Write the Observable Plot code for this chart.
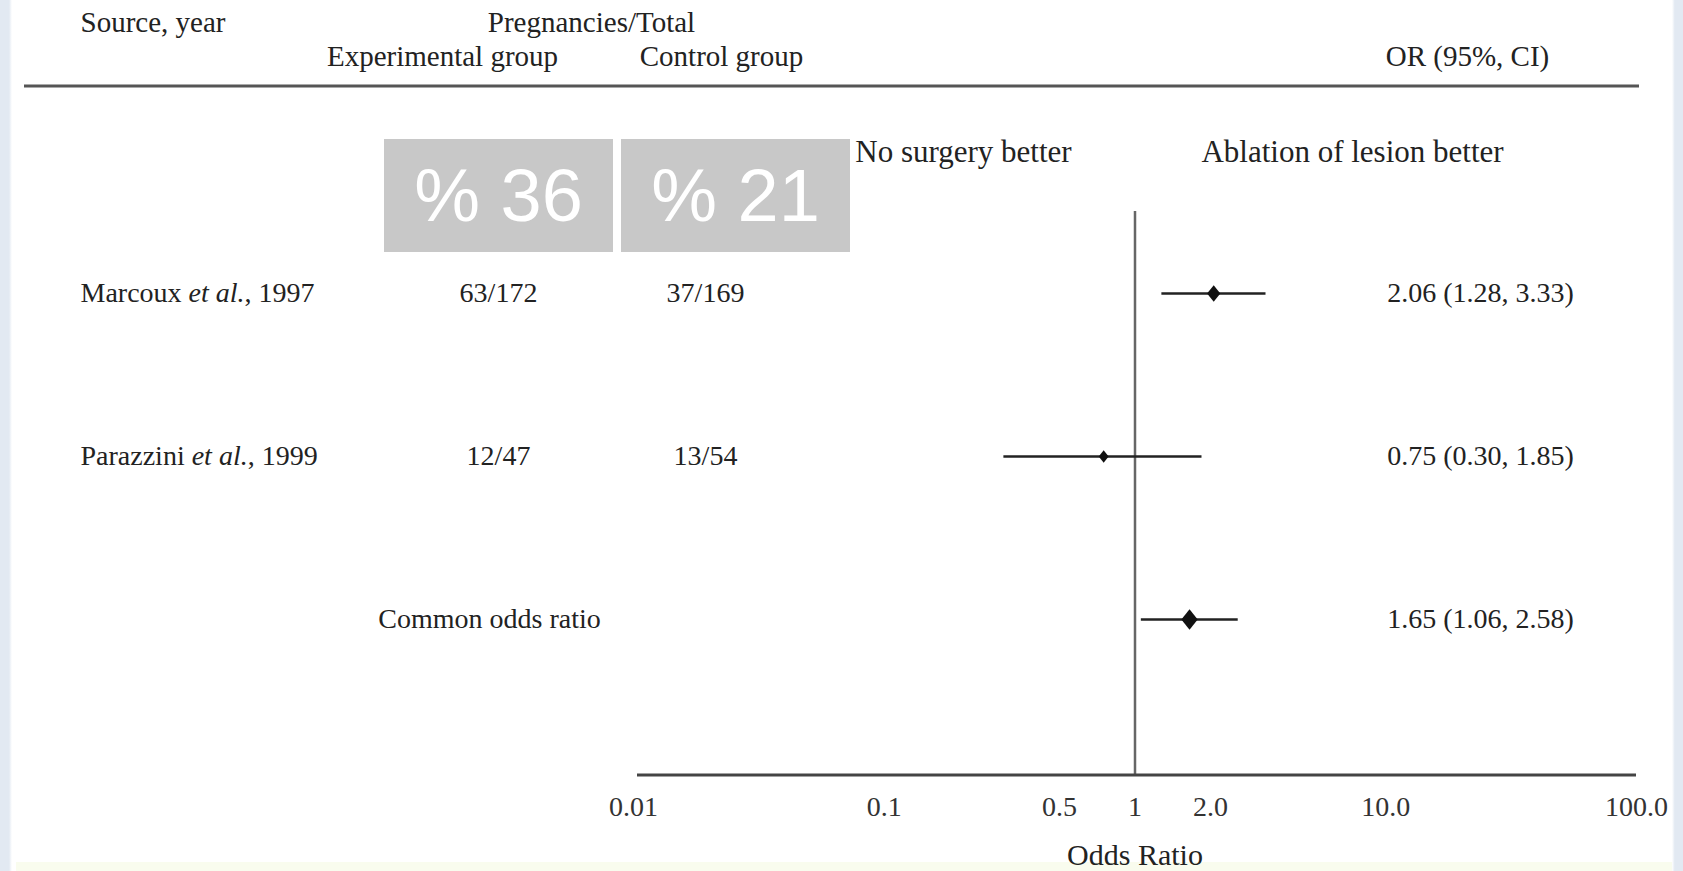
<!DOCTYPE html>
<html>
<head>
<meta charset="utf-8">
<script src="https://cdn.jsdelivr.net/npm/d3@7"></script>
<script src="https://cdn.jsdelivr.net/npm/@observablehq/plot@0.6"></script>
<style>
  html, body { margin: 0; padding: 0; background: #fff; }
  #wrap { position: relative; width: 1683px; height: 871px; overflow: hidden; background: #fff; }
  .strip { position: absolute; }
  #chart { position: absolute; left: 0; top: 0; }
  .box { position: absolute; top: 139px; width: 229px; height: 113px; background: #c8c8c8; color: #fff;
         font-family: 'Liberation Sans', Arial, sans-serif; font-size: 74px; display: flex;
         align-items: center; justify-content: center; line-height: 1; }
</style>
</head>
<body>
<div id="wrap">
  <div class="strip" style="left:0;top:0;width:12px;height:871px;background:linear-gradient(to right,#e2e9f2 75%,#fff);"></div>
  <div class="strip" style="right:0;top:0;width:11px;height:871px;background:linear-gradient(to left,#e2e9f2 75%,#fff);"></div>
  <div class="strip" style="left:16px;top:862px;width:1656px;height:9px;background:#f9fcee;"></div>
  <div id="chart"></div>
</div>
<script>
// ---------- data ----------
const studies = ["Marcoux et al., 1997", "Parazzini et al., 1999", "Common odds ratio"];
const expEvents = [63, 12, null];
const expTotals = [172, 47, null];
const ctlEvents = [37, 13, null];
const ctlTotals = [169, 54, null];
const oddsRatios = [2.06, 0.75, 1.65];
const ciLower = [1.28, 0.30, 1.06];
const ciUpper = [3.33, 1.85, 2.58];
const tickValues = [0.01, 0.1, 0.5, 1, 2, 10, 100];
const tickLabels = ["0.01", "0.1", "0.5", "1", "2.0", "10.0", "100.0"];
const percentLabels = ["% 36", "% 21"];
const headerTop = ["Source, year", "Pregnancies/Total"];
const headerSub = ["Experimental group", "Control group", "OR (95%, CI)"];
const directionLabels = ["No surgery better", "Ablation of lesion better"];
const axisTitle = "Odds Ratio";

const rows = studies.map((s, i) => ({
  study: s,
  pooled: expEvents[i] == null,
  exp: expEvents[i] == null ? "" : `${expEvents[i]}/${expTotals[i]}`,
  ctl: ctlEvents[i] == null ? "" : `${ctlEvents[i]}/${ctlTotals[i]}`,
  or: oddsRatios[i], lo: ciLower[i], hi: ciUpper[i],
  label: `${oddsRatios[i].toFixed(2)} (${ciLower[i].toFixed(2)}, ${ciUpper[i].toFixed(2)})`
}));
const ticks = tickValues.map((v, i) => ({value: v, label: tickLabels[i]}));

// ---------- layout / style ----------
const W = 1683, H = 871, ML = 633, MR = 47, MT = 211, MB = 96;
const INK = "#222";
const at = (px, py, anchor = "middle") => ({frameAnchor: "top-left", dx: px - ML, dy: py - MT, textAnchor: anchor, lineAnchor: "middle"});
const col = (px, anchor = "middle") => ({frameAnchor: "left", dx: px - ML, textAnchor: anchor, lineAnchor: "middle"});
const markerR = [5.9, 4.4, 7.3];
const tallDiamond = {
  draw(ctx, size) {
    const hh = Math.sqrt(size / 1.6), hw = 0.8 * hh;
    ctx.moveTo(0, -hh); ctx.lineTo(hw, 0); ctx.lineTo(0, hh); ctx.lineTo(-hw, 0); ctx.closePath();
  }
};
const svgLine = (x1, y1, x2, y2, stroke, w) => {
  const l = document.createElementNS("http://www.w3.org/2000/svg", "line");
  l.setAttribute("x1", x1); l.setAttribute("x2", x2);
  l.setAttribute("y1", y1); l.setAttribute("y2", y2);
  l.setAttribute("stroke", stroke); l.setAttribute("stroke-width", w);
  return l;
};

const chart = Plot.plot({
  width: W, height: H,
  marginLeft: ML, marginRight: MR, marginTop: MT, marginBottom: MB,
  style: {fontFamily: "'Liberation Serif', 'Times New Roman', serif", fontSize: "28px", color: INK, background: "transparent"},
  x: {type: "log", domain: [0.01, 100], axis: null},
  y: {type: "point", domain: studies, range: [292, 619], padding: 0, axis: null},
  r: {type: "identity"},
  marks: [
    // header
    Plot.text([headerTop[0]], {text: d => d, ...at(80, 22, "start"), fontSize: 29, fill: INK}),
    Plot.text([headerTop[1]], {text: d => d, ...at(591, 22), fontSize: 29, fill: INK}),
    Plot.text([headerSub[0]], {text: d => d, ...at(442, 56), fontSize: 29, fill: INK}),
    Plot.text([headerSub[1]], {text: d => d, ...at(721, 56), fontSize: 29, fill: INK}),
    Plot.text([headerSub[2]], {text: d => d, ...at(1467, 56), fontSize: 29, fill: INK}),
    () => svgLine(24, 86, 1639, 86, "#555", 3),
    // direction labels
    Plot.text([directionLabels[0]], {text: d => d, ...at(963, 152), fontSize: 31, fill: INK}),
    Plot.text([directionLabels[1]], {text: d => d, ...at(1352, 152), fontSize: 31, fill: INK}),
    // reference line
    Plot.ruleX([1], {stroke: "#666", strokeWidth: 2.5}),
    // confidence intervals and estimates
    Plot.ruleY(rows, {y: "study", x1: "lo", x2: "hi", stroke: INK, strokeWidth: 2.5}),
    Plot.dot(rows, {x: "or", y: "study", r: (d, i) => markerR[i], symbol: tallDiamond, fill: "#111", stroke: null}),
    // table columns
    Plot.text(rows.filter(d => !d.pooled), {y: "study", text: "study", ...col(80, "start"), fill: INK}),
    Plot.text(rows.filter(d => d.pooled), {y: "study", text: "study", ...col(489), fill: INK}),
    Plot.text(rows, {y: "study", text: "exp", ...col(498), fill: INK}),
    Plot.text(rows, {y: "study", text: "ctl", ...col(705), fill: INK}),
    Plot.text(rows, {y: "study", text: "label", ...col(1480), fill: INK}),
    // x axis: baseline, tick labels, title
    (index, scales, values, dims) => svgLine(dims.marginLeft + 4, dims.height - dims.marginBottom, dims.width - dims.marginRight, dims.height - dims.marginBottom, "#444", 3),
    Plot.text(ticks, {x: "value", text: "label", frameAnchor: "bottom", dy: 807 - (H - MB), lineAnchor: "middle", textAnchor: "middle", fontSize: 28, fill: "#333"}),
    Plot.text([axisTitle], {text: d => d, frameAnchor: "bottom", dy: 855 - (H - MB), lineAnchor: "middle", textAnchor: "middle", fontSize: 30, fill: INK})
  ]
});

// italic "et al."
d3.select(chart).selectAll("text").each(function() {
  const t = this.textContent;
  if (this.childElementCount === 0 && t.includes(" et al.")) {
    const [before, after] = t.split("et al.");
    this.textContent = "";
    this.appendChild(document.createTextNode(before));
    const ts = document.createElementNS("http://www.w3.org/2000/svg", "tspan");
    ts.setAttribute("font-style", "italic");
    ts.textContent = "et al.";
    this.appendChild(ts);
    this.appendChild(document.createTextNode(after));
  }
});

document.getElementById("chart").appendChild(chart);

// percentage overlay boxes
const boxLefts = [384, 621];
percentLabels.forEach((p, i) => {
  const b = document.createElement("div");
  b.className = "box";
  b.style.left = boxLefts[i] + "px";
  b.textContent = p;
  document.getElementById("wrap").appendChild(b);
});
</script>
</body>
</html>
